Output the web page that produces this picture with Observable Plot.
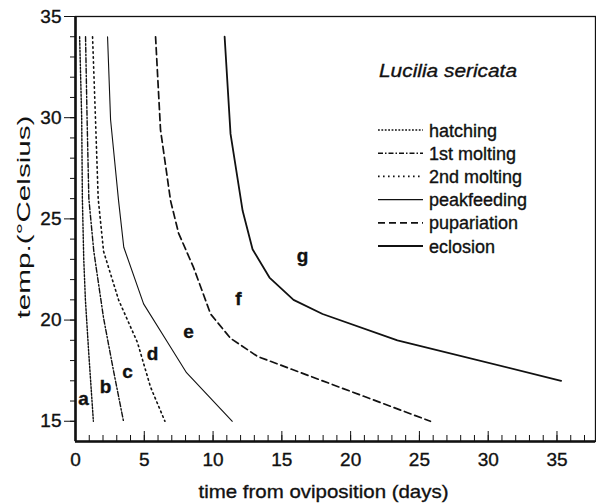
<!DOCTYPE html>
<html><head><meta charset="utf-8">
<script src="https://cdn.jsdelivr.net/npm/d3@7"></script>
<script src="https://cdn.jsdelivr.net/npm/@observablehq/plot@0.6"></script>
<style>
body{margin:0;background:#fff;}
#chart{width:596px;height:504px;}
#chart svg text{stroke:#111;stroke-width:0.35px;}
#chart svg text.ytitle{stroke:none;}
</style></head><body><div id="chart"></div>
<script>
// ---- data ----
const stages = ["hatching", "1st molting", "2nd molting", "peakfeeding", "pupariation", "eclosion"];
const hatchingDays = [0.3, 0.45, 0.5, 0.6, 0.72, 0.95, 1.3];
const hatchingTemp = [34, 30, 26, 23, 21, 18.5, 15];
const molt1Days = [0.73, 0.84, 0.97, 1.33, 2.04, 2.79, 3.49];
const molt1Temp = [34, 30, 26, 23.4, 20.1, 17.4, 15];
const molt2Days = [1.24, 1.45, 1.65, 2.04, 3.13, 4.5, 5.45, 6.5];
const molt2Temp = [34, 30, 26, 23.4, 21, 18.9, 16.7, 15];
const peakDays = [2.33, 2.55, 3.13, 3.51, 4.95, 6.69, 8.07, 11.4];
const peakTemp = [34, 29.9, 25.9, 23.6, 20.8, 18.9, 17.4, 15];
const pupDays = [5.82, 6.18, 6.91, 7.49, 8.58, 9.82, 11.27, 13.24, 25.8];
const pupTemp = [34, 29.4, 25.9, 24.3, 22.6, 20.3, 19.1, 18.2, 15];
const eclDays = [10.84, 11.27, 12.15, 12.87, 14.1, 15.85, 17.96, 23.4, 35.3];
const eclTemp = [34, 29.2, 25.4, 23.5, 22.1, 21.0, 20.3, 19.0, 17.0];
const regionLabels = ["a", "b", "c", "d", "e", "f", "g"];
const regionDays = [0.58, 2.18, 3.78, 5.6, 8.22, 11.85, 16.5];
const regionTemp = [16.09, 16.68, 17.42, 18.31, 19.4, 21.07, 23.15];
const xTicks = [0, 5, 10, 15, 20, 25, 30, 35];
const yTicks = [15, 20, 25, 30, 35];
const xMinorTicks = d3.range(0, 38, 1);
const yMinorTicks = d3.range(15, 36, 1);
const xDomain = [0, 37.8];
const yDomain = [14, 35];
const speciesTitle = "Lucilia sericata";
const xTitle = "time from oviposition (days)";
const yTitle = "temp.(°Celsius)";

// ---- styles ----
const seriesDays = [hatchingDays, molt1Days, molt2Days, peakDays, pupDays, eclDays];
const seriesTemp = [hatchingTemp, molt1Temp, molt2Temp, peakTemp, pupTemp, eclTemp];
const dashes = ["1.8,1.6", "5,2,1.5,2", "1.6,3.4", null, "7,4", null];
const widths = [1.4, 1.4, 1.6, 1.1, 1.7, 1.8];
const ink = "#111";
const font = "'Liberation Sans', Arial, sans-serif";

const lineMarks = stages.map((s, i) => Plot.line(
  seriesDays[i].map((d, j) => ({days: d, temp: seriesTemp[i][j], stage: s})),
  {x: "days", y: "temp", stroke: ink, strokeWidth: widths[i], strokeDasharray: dashes[i] ?? undefined}
));

const chart = Plot.plot({
  width: 596, height: 504,
  marginLeft: 75, marginRight: 1, marginTop: 16, marginBottom: 63,
  style: {fontFamily: font, fontSize: "19px", color: ink, background: "#fff"},
  x: {domain: xDomain},
  y: {domain: yDomain},
  marks: [
    Plot.axisY(yMinorTicks, {tickSize: 5, tickFormat: () => "", label: null, stroke: ink}),
    Plot.axisY(yTicks, {tickSize: 11, tickPadding: 3, label: null, fontSize: 19, stroke: ink, fill: ink}),
    Plot.axisX(xMinorTicks, {tickSize: -6, tickFormat: () => "", label: null, stroke: ink}),
    Plot.axisX(xTicks, {tickSize: -10, tickPadding: 21, label: null, fontSize: 19, stroke: ink, fill: ink}),
    Plot.frame({stroke: ink, strokeWidth: 1.3}),
    Plot.ruleX([xDomain[0]], {stroke: ink, strokeWidth: 2.6}),
    Plot.ruleY([yDomain[0]], {stroke: ink, strokeWidth: 2.6}),
    ...lineMarks,
    Plot.text(regionLabels, {x: (d, i) => regionDays[i], y: (d, i) => regionTemp[i], text: d => d,
      fontWeight: "bold", fontSize: 19, fill: ink}),
    Plot.text([xTitle], {frameAnchor: "bottom", dx: -12, dy: 50, fontSize: 19, fill: ink, lineAnchor: "middle"}),
    Plot.text([yTitle], {frameAnchor: "left", dx: -52, dy: -12, rotate: -90, fontSize: 19, fill: ink, lineAnchor: "middle"})
  ]
});
document.getElementById("chart").appendChild(chart);

const svg = d3.select(chart);
function stretch(label, len) {
  return svg.selectAll("text").filter(function() { return this.textContent === label; })
    .attr("text-anchor", "start").attr("x", -len / 2)
    .attr("textLength", len).attr("lengthAdjust", "spacingAndGlyphs");
}
stretch(yTitle, 203).classed("ytitle", true);
stretch(xTitle, 250);

// ---- in-plot legend ----
const lg = svg.append("g").attr("font-family", font).attr("fill", ink).attr("text-anchor", "start");
lg.append("text").attr("x", 379).attr("y", 77).attr("font-size", 19).attr("font-style", "italic")
  .attr("textLength", 138).attr("lengthAdjust", "spacingAndGlyphs").text(speciesTitle);
stages.forEach((s, i) => {
  const yy = 130 + i * 23.2;
  lg.append("line").attr("x1", 378).attr("x2", 423).attr("y1", yy).attr("y2", yy)
    .attr("stroke", ink).attr("stroke-width", widths[i])
    .attr("stroke-dasharray", dashes[i]);
  lg.append("text").attr("x", 429).attr("y", yy + 6.5).attr("font-size", 18).text(s);
});
</script>
</body></html>
